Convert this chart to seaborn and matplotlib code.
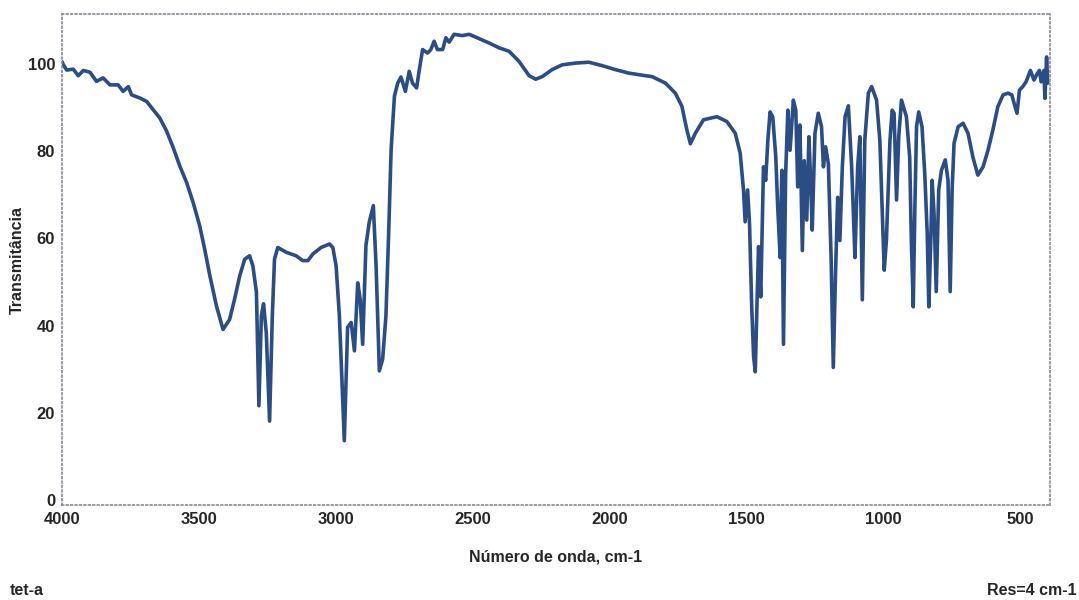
import numpy as np
import pandas as pd
import matplotlib
matplotlib.use("Agg")
import matplotlib.pyplot as plt
import seaborn as sns

# IR spectrum (wavenumber cm-1 -> transmittance %)
wavenumber = [
    4000, 3995, 3983, 3959, 3941, 3922, 3898, 3874, 3850, 3825, 3795, 3777, 3758, 3746,
    3716, 3691, 3667, 3643, 3618, 3594, 3570, 3545, 3521, 3497, 3479, 3460, 3436, 3412,
    3388, 3370, 3351, 3333, 3315, 3303, 3290, 3281, 3272, 3264, 3254, 3242, 3232, 3224,
    3212, 3181, 3145, 3121, 3102, 3084, 3054, 3023, 3011, 2999, 2987, 2975, 2969, 2962,
    2957, 2944, 2932, 2920, 2911, 2902, 2890, 2878, 2863, 2853, 2841, 2829, 2817, 2807,
    2798, 2786, 2774, 2762, 2746, 2732, 2720, 2705, 2695, 2683, 2665, 2653, 2641, 2629,
    2610, 2598, 2586, 2568, 2538, 2513, 2477, 2440, 2404, 2367, 2331, 2294, 2270, 2246,
    2210, 2173, 2124, 2076, 2027, 1979, 1930, 1869, 1845, 1796, 1760, 1736, 1718, 1705,
    1687, 1657, 1608, 1572, 1541, 1523, 1511, 1505, 1496, 1489, 1481, 1474, 1468, 1462,
    1456, 1448, 1438, 1430, 1422, 1414, 1404, 1393, 1386, 1377, 1371, 1365, 1357, 1349,
    1341, 1329, 1320, 1313, 1305, 1296, 1289, 1280, 1272, 1265, 1260, 1250, 1238, 1226,
    1219, 1211, 1201, 1191, 1183, 1175, 1167, 1159, 1150, 1140, 1128, 1116, 1110, 1104,
    1094, 1086, 1077, 1068, 1055, 1043, 1025, 1013, 1003, 997, 989, 976, 968, 961,
    952, 944, 934, 916, 904, 898, 891, 885, 879, 871, 859, 849, 840, 834,
    827, 822, 815, 807, 798, 788, 774, 764, 756, 749, 742, 727, 709, 691,
    673, 655, 636, 618, 600, 582, 563, 545, 531, 521, 512, 503, 491, 479,
    463, 450, 438, 430, 424, 414, 410, 404, 400,
]
transmittance = [
    100.5, 99.8, 98.6, 98.8, 97.3, 98.5, 98.1, 96.0, 96.8, 95.2, 95.2, 93.7, 94.8, 92.9,
    92.2, 91.4, 89.5, 87.6, 84.6, 80.8, 76.6, 72.8, 68.2, 62.8, 57.5, 51.4, 44.5, 39.1,
    41.4, 46.0, 51.4, 55.2, 56.0, 53.7, 47.6, 21.6, 42.2, 45.0, 38.3, 18.1, 42.2, 55.2,
    57.9, 56.8, 56.0, 54.9, 54.9, 56.4, 57.9, 58.7, 57.9, 53.7, 42.2, 23.1, 13.6, 28.5,
    39.6, 40.7, 34.2, 49.8, 46.0, 35.7, 58.4, 63.7, 67.5, 53.7, 29.6, 32.3, 42.2, 61.3,
    80.4, 92.6, 95.6, 97.0, 93.7, 98.3, 95.6, 94.5, 98.7, 103.3, 102.5, 103.3, 105.2, 103.3,
    103.3, 106.0, 105.0, 106.8, 106.5, 106.8, 105.8, 104.8, 103.7, 102.9, 100.6, 97.3, 96.5, 97.1,
    98.7, 99.8, 100.2, 100.4, 99.6, 98.7, 97.9, 97.3, 97.1, 95.6, 93.3, 90.3, 84.9, 81.7,
    84.1, 87.2, 87.9, 86.8, 84.1, 79.5, 71.1, 63.8, 71.1, 63.4, 44.3, 32.8, 29.4, 44.3,
    58.1, 46.6, 76.4, 73.3, 82.5, 89.0, 87.8, 78.6, 67.1, 55.6, 75.6, 35.7, 74.9, 89.4,
    80.2, 91.7, 89.4, 71.8, 86.0, 57.2, 77.8, 64.2, 83.3, 71.8, 61.9, 84.1, 88.7, 85.6,
    76.4, 81.0, 77.1, 55.6, 30.4, 51.8, 69.4, 59.5, 76.4, 87.9, 90.4, 76.4, 66.4, 55.6,
    76.4, 83.3, 45.9, 82.5, 93.3, 94.8, 91.7, 82.5, 63.4, 52.7, 59.6, 82.5, 89.4, 88.7,
    68.8, 83.3, 91.7, 87.9, 78.6, 59.6, 44.3, 67.2, 85.6, 89.0, 85.6, 74.9, 61.2, 44.3,
    59.6, 73.3, 65.6, 47.8, 71.1, 75.6, 78.0, 73.3, 47.8, 71.1, 81.8, 85.6, 86.4, 84.1,
    78.6, 74.5, 76.4, 80.2, 84.9, 90.2, 92.9, 93.3, 92.9, 90.6, 88.7, 94.0, 94.8, 95.9,
    98.5, 96.3, 97.8, 98.5, 95.9, 98.5, 92.1, 101.6, 95.6,
]
x_ticks = [4000, 3500, 3000, 2500, 2000, 1500, 1000, 500]
y_ticks = [0, 20, 40, 60, 80, 100]

spectrum = pd.DataFrame({"wn": wavenumber, "T": transmittance})

sns.set_style("white")
plt.rcParams["font.family"] = ["Liberation Sans", "DejaVu Sans"]

fig = plt.figure(figsize=(10.79, 6.0), dpi=100)
ax = fig.add_axes([0.0575, 0.158, 0.9155, 0.819])

sns.lineplot(data=spectrum, x="wn", y="T", sort=False, estimator=None,
             color="#2b4d85", linewidth=2.6, ax=ax)

ax.set_xlim(4000, 392)
ax.set_ylim(-1.2, 111.5)
ax.set_xticks(x_ticks)
ax.set_yticks(y_ticks)
ax.tick_params(axis="both", labelsize=12, length=3, width=0.8, color="#777777", pad=2)
for lbl in ax.get_xticklabels() + ax.get_yticklabels():
    lbl.set_fontweight("bold")

for side in ["top", "bottom", "left", "right"]:
    ax.spines[side].set_linestyle(":")
    ax.spines[side].set_color("#8a8a9a")
    ax.spines[side].set_linewidth(1.2)

ax.set_xlabel("Número de onda, cm-1", fontsize=11.5, fontweight="bold", labelpad=16)
ax.set_ylabel("Transmitância", fontsize=11.5, fontweight="bold", labelpad=2)

fig.text(0.009, 0.004, "tet-a", fontsize=11.5, fontweight="bold", ha="left", va="bottom")
fig.text(0.998, 0.004, "Res=4 cm-1", fontsize=11.5, fontweight="bold", ha="right", va="bottom")

fig.savefig("out.png", dpi=100, facecolor="white")
